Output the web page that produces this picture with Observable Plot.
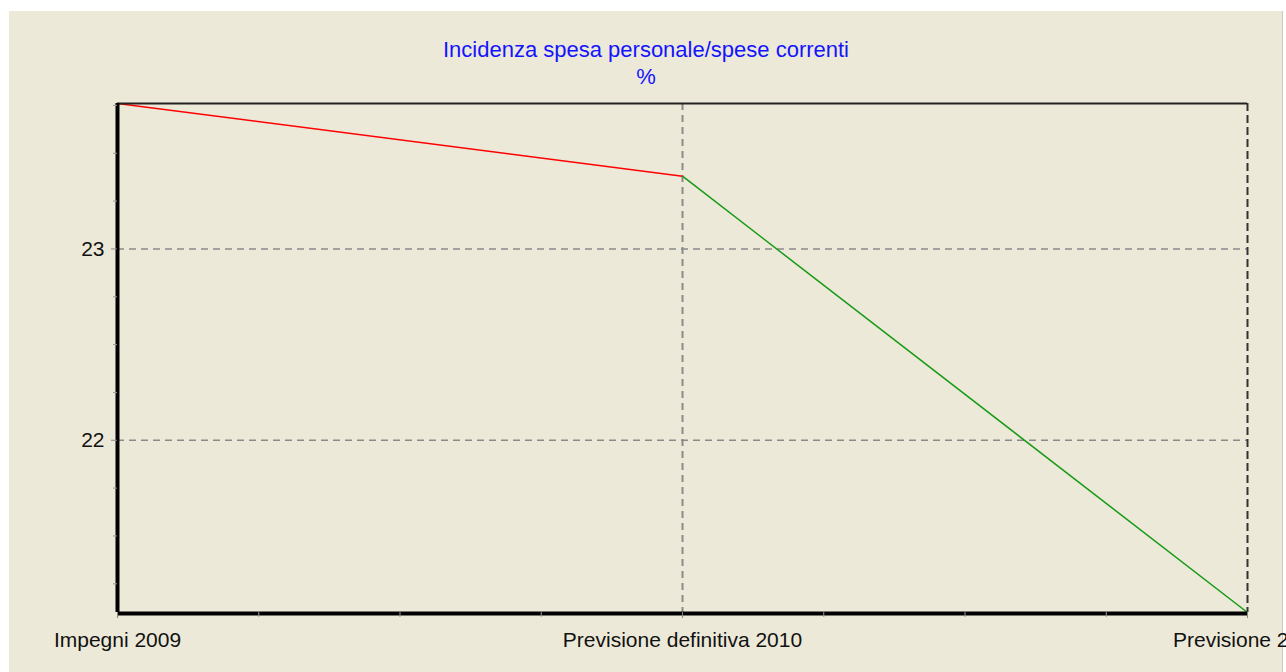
<!DOCTYPE html>
<html>
<head>
<meta charset="utf-8">
<script src="https://cdn.jsdelivr.net/npm/d3@7"></script>
<script src="https://cdn.jsdelivr.net/npm/@observablehq/plot@0.6"></script>
<style>
  html, body { margin: 0; padding: 0; background: #ffffff; overflow: hidden; }
  #root { position: relative; width: 1286px; height: 672px; overflow: hidden; }
  #panel { position: absolute; left: 9px; top: 11px; width: 1273px; height: 661px; background: #ECE9D8; border-right: 1px solid #cfcbbb; }
  #title { position: absolute; left: 0; top: 36px; width: 1292px; text-align: center; font-family: "Liberation Sans", Arial, sans-serif; font-size: 22px; line-height: 27px; color: #1414ff; }
  #chart { position: absolute; left: 0; top: 0; }
  #chart svg { overflow: hidden; }
</style>
</head>
<body>
<div id="root">
  <div id="panel"></div>
  <div id="chart"></div>
  <div id="title">Incidenza spesa personale/spese correnti<br>%</div>
</div>
<script>
// ---- Data ----
const categories = ["Impegni 2009", "Previsione definitiva 2010", "Previsione 2011"];
const values = [23.76, 23.38, 21.10];
const segmentColors = ["#ff0000", "#159a15"];
const yMajorTicks = [22, 23];
const yMinorTicks = [21.25, 21.5, 21.75, 22.25, 22.5, 22.75, 23.25, 23.5, 23.75];
const xMinorTicks = [0.25, 0.5, 0.75, 1.25, 1.5, 1.75];

// ---- Derived tables ----
const idx = categories.map((c, i) => i);
const yExtent = d3.extent(values);
const segments = d3.pairs(idx).map(([a, b], k) => ({
  x1: a, y1: values[a], x2: b, y2: values[b], color: segmentColors[k]
}));
const innerCats = idx.slice(1, -1);
const lastCat = [idx[idx.length - 1]];

const chart = Plot.plot({
  width: 1286,
  height: 672,
  marginLeft: 117,
  marginRight: 39,
  marginTop: 103,
  marginBottom: 60,
  style: { background: "transparent", fontFamily: "'Liberation Sans', Arial, sans-serif", fontSize: "21px", color: "#111" },
  x: { type: "linear", domain: [0, categories.length - 1], label: null },
  y: { domain: yExtent, label: null },
  color: { type: "identity" },
  marks: [
    // grid
    Plot.ruleY(yMajorTicks, { stroke: "#8a8a8a", strokeWidth: 1.5, strokeDasharray: "7,5" }),
    Plot.ruleX(innerCats, { stroke: "#8a8a8a", strokeWidth: 2, strokeDasharray: "7,5" }),
    Plot.ruleX(lastCat, { stroke: "#333333", strokeWidth: 2, strokeDasharray: "8,4" }),
    // series
    Plot.link(segments, { x1: "x1", y1: "y1", x2: "x2", y2: "y2", stroke: "color", strokeWidth: 1.5 }),
    // frame
    Plot.ruleY([yExtent[1]], { stroke: "#222", strokeWidth: 2 }),
    Plot.ruleX([0], { stroke: "#000", strokeWidth: 4 }),
    Plot.ruleY([yExtent[0]], { stroke: "#000", strokeWidth: 4, dy: 1 }),
    // axes
    Plot.axisY({ ticks: yMajorTicks, tickSize: 6, tickPadding: 7, tickFormat: (d) => String(d), stroke: "#888", fill: "#111", fontSize: 21, label: null }),
    Plot.axisY({ ticks: yMinorTicks, tickSize: 4, tickFormat: () => "", stroke: "#999", label: null }),
    Plot.axisX({ ticks: idx, tickSize: 6, tickPadding: 14, tickFormat: (i) => categories[i], stroke: "#888", fill: "#111", fontSize: 21, label: null }),
    Plot.axisX({ ticks: xMinorTicks, tickSize: 5, tickFormat: () => "", stroke: "#999", label: null })
  ]
});
document.getElementById("chart").appendChild(chart);
</script>
</body>
</html>
